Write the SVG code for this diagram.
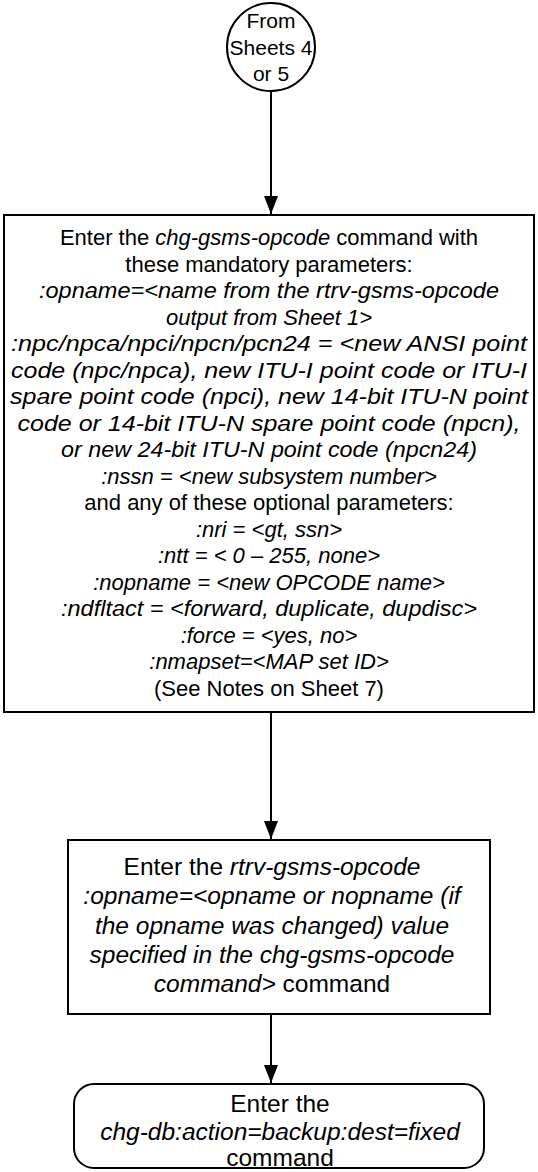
<svg xmlns="http://www.w3.org/2000/svg" width="538" height="1172" viewBox="0 0 538 1172">
<defs>
<style>
.s{fill:#fff;stroke:#000;stroke-width:2}
.t{font-family:"Liberation Sans",Arial,sans-serif;font-size:22px;fill:#000;text-anchor:middle}
.b{font-size:24.5px}
.i{font-style:italic}
.c{stroke:#000;stroke-width:2;fill:none}
</style>
<marker id="a" markerWidth="18" markerHeight="14" refX="18" refY="7" orient="auto" markerUnits="userSpaceOnUse" viewBox="0 0 18 14">
<path d="M0,0 L18,7 L0,14 Z" fill="#000"/>
</marker>
</defs>
<g id="connectors">
<line class="c" x1="271" y1="91" x2="271" y2="214" marker-end="url(#a)"/>
<line class="c" x1="271" y1="712" x2="271" y2="839" marker-end="url(#a)"/>
<line class="c" x1="271" y1="1014" x2="271" y2="1083" marker-end="url(#a)"/>
</g>
<g id="start">
<circle class="s" cx="271" cy="47" r="44"/>
<text class="t" x="271" y="28" style="font-size:21px">From</text>
<text class="t" x="271" y="55" style="font-size:21px">Sheets 4</text>
<text class="t" x="271" y="81" style="font-size:21px">or 5</text>
</g>
<g id="change">
<rect class="s" x="4" y="215" width="530" height="497"/>
<text class="t" x="269" y="245">Enter the <tspan class="i">chg-gsms-opcode</tspan> command with</text>
<text class="t" x="269" y="271.5">these mandatory parameters:</text>
<g class="i">
<text class="t" x="269" y="298" textLength="460" lengthAdjust="spacingAndGlyphs">:opname=&lt;name from the rtrv-gsms-opcode</text>
<text class="t" x="269" y="324.5">output from Sheet 1&gt;</text>
<text class="t" x="269" y="351" textLength="516" lengthAdjust="spacingAndGlyphs">:npc/npca/npci/npcn/pcn24 = &lt;new ANSI point</text>
<text class="t" x="269" y="377.5" textLength="516" lengthAdjust="spacingAndGlyphs">code (npc/npca), new ITU-I point code or ITU-I</text>
<text class="t" x="269" y="404" textLength="518" lengthAdjust="spacingAndGlyphs">spare point code (npci), new 14-bit ITU-N point</text>
<text class="t" x="269" y="430.5" textLength="503" lengthAdjust="spacingAndGlyphs">code or 14-bit ITU-N spare point code (npcn),</text>
<text class="t" x="269" y="457" textLength="416" lengthAdjust="spacingAndGlyphs">or new 24-bit ITU-N point code (npcn24)</text>
<text class="t" x="269" y="483.5">:nssn = &lt;new subsystem number&gt;</text>
</g>
<text class="t" x="269" y="510">and any of these optional parameters:</text>
<g class="i">
<text class="t" x="269" y="536.5">:nri = &lt;gt, ssn&gt;</text>
<text class="t" x="269" y="563">:ntt = &lt; 0 – 255, none&gt;</text>
<text class="t" x="269" y="589.5">:nopname = &lt;new OPCODE name&gt;</text>
<text class="t" x="269" y="616" textLength="416" lengthAdjust="spacingAndGlyphs">:ndfltact = &lt;forward, duplicate, dupdisc&gt;</text>
<text class="t" x="269" y="642.5">:force = &lt;yes, no&gt;</text>
<text class="t" x="269" y="669">:nmapset=&lt;MAP set ID&gt;</text>
</g>
<text class="t" x="269" y="695.5">(See Notes on Sheet 7)</text>
</g>
<g id="retrieve">
<rect class="s" x="68" y="840" width="422" height="174"/>
<text class="t b" x="272" y="874.5">Enter the <tspan class="i">rtrv-gsms-opcode</tspan></text>
<text class="t b i" x="272" y="904">:opname=&lt;opname or nopname (if</text>
<text class="t b i" x="272" y="933.5">the opname was changed) value</text>
<text class="t b i" x="272" y="963">specified in the chg-gsms-opcode</text>
<text class="t b" x="272" y="992"><tspan class="i">command&gt;</tspan> command</text>
</g>
<g id="backup">
<rect class="s" x="74" y="1084" width="410" height="84" rx="20"/>
<text class="t b" x="280" y="1112">Enter the</text>
<text class="t b i" x="280" y="1140">chg-db:action=backup:dest=fixed</text>
<text class="t b" x="280" y="1166">command</text>
</g>
</svg>
